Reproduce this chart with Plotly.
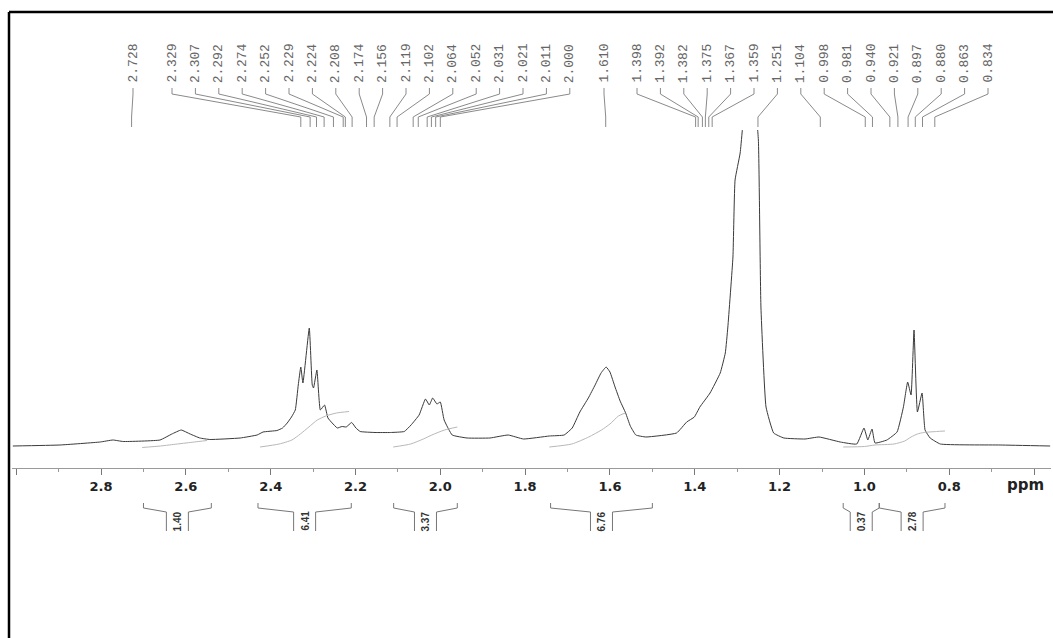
import plotly.graph_objects as go

# ---------------- data ----------------
# 1H NMR trace: chemical shift (ppm) and relative intensity (arbitrary units)
spec_ppm = [3.008, 2.897, 2.802, 2.772, 2.748, 2.661, 2.633, 2.611, 2.590, 2.567,
            2.543, 2.472, 2.432, 2.418, 2.385, 2.372, 2.361, 2.351, 2.342, 2.335, 2.329, 2.324,
            2.309, 2.302, 2.299, 2.291, 2.283, 2.273, 2.265, 2.255, 2.243, 2.232,
            2.222, 2.209, 2.199, 2.189, 2.154, 2.118, 2.085, 2.069, 2.050, 2.035,
            2.026, 2.018, 2.008, 2.000, 1.991, 1.972, 1.937, 1.883, 1.840, 1.804,
            1.743, 1.708, 1.689, 1.671, 1.651, 1.635, 1.621, 1.609, 1.600, 1.588, 1.576,
            1.563, 1.552, 1.539, 1.515,
            1.443, 1.419, 1.401, 1.388, 1.364, 1.340, 1.328, 1.322, 1.310, 1.305, 1.293, 1.281, 1.269,
            1.258, 1.250, 1.244, 1.232, 1.214, 1.190, 1.140, 1.107, 1.057, 1.018,
            1.001, 0.992, 0.982, 0.975, 0.947, 0.923, 0.908, 0.898, 0.890, 0.883,
            0.875, 0.864, 0.857, 0.845, 0.821, 0.680, 0.562]
spec_int = [0, 1, 4, 6, 4.5, 6, 12, 16, 12, 8,
            6.5, 8, 11, 14, 15.5, 18, 23, 29, 36, 61, 79, 63,
            118, 61, 58, 76, 36, 41, 28, 23, 18, 19.5,
            19, 23.5, 18, 14.5, 13.5, 13.5, 14.5, 21, 31, 47,
            41, 48, 42, 44, 26, 11, 8, 8, 11, 7,
            10, 11, 18, 34, 48, 61, 73, 79, 74, 59, 45,
            33, 20, 11, 9,
            13, 24, 29, 39, 53, 73, 93, 119, 189, 266, 293, 346, 366,
            346, 306, 139, 39, 13, 8, 7, 9, 4, 2,
            18, 6, 17, 3, 6, 14, 39, 64, 51, 116,
            34, 53, 16, 8, 2, 1, 0]

# integral curves (ppm, curve height)
int1_ppm = [2.703, 2.66, 2.62, 2.58, 2.55]
int1_val = [-1.5, 0, 2, 4, 5.5]
int2_ppm = [2.425, 2.38, 2.35, 2.33, 2.31, 2.29, 2.27, 2.245, 2.215]
int2_val = [-1, 2, 6, 12, 19, 26, 30, 33, 34.5]
int3_ppm = [2.111, 2.07, 2.04, 2.02, 1.99, 1.96]
int3_val = [-1, 2, 7, 11, 16, 19]
int4_ppm = [1.743, 1.69, 1.65, 1.62, 1.60, 1.58, 1.564]
int4_val = [-1, 2, 9, 16, 22, 30, 33]
int5_ppm = [1.05, 1.00, 0.975, 0.93, 0.905, 0.89, 0.875, 0.86, 0.83, 0.81]
int5_val = [-1, -0.5, 1, 2, 5, 9, 12, 13.5, 14.5, 15]

# integration regions and values
integral_start = [2.70, 2.43, 2.11, 1.74, 1.05, 0.965]
integral_end = [2.54, 2.21, 1.96, 1.50, 0.965, 0.81]
integral_labels = ["1.40", "6.41", "3.37", "6.76", "0.37", "2.78"]

# peak picking labels
peak_labels = ["2.728", "2.329", "2.307", "2.292", "2.274", "2.252", "2.229", "2.224",
               "2.208", "2.174", "2.156", "2.119", "2.102", "2.064", "2.052", "2.031",
               "2.021", "2.011", "2.000", "1.610", "1.398", "1.392", "1.382", "1.375",
               "1.367", "1.359", "1.251", "1.104", "0.998", "0.981", "0.940", "0.921",
               "0.897", "0.880", "0.863", "0.834"]

# axis ticks
tick_vals = [3.0, 2.8, 2.6, 2.4, 2.2, 2.0, 1.8, 1.6, 1.4, 1.2, 1.0, 0.8, 0.6]
tick_labels = ["", "2.8", "2.6", "2.4", "2.2", "2.0", "1.8", "1.6", "1.4", "1.2", "1.0", "0.8", ""]
minor_vals = [2.9, 2.7, 2.5, 2.3, 2.1, 1.9, 1.7, 1.5, 1.3, 1.1, 0.9, 0.7]

# ---------------- layout helpers ----------------
W, H = 1053, 638
ML, MR, MT, MB = 12, 2, 12, 0
X_RANGE = [3.01, 0.56]
PLOT_W = W - ML - MR
PLOT_H = H - MT - MB


def px_to_ppm(px):
    return X_RANGE[0] - (px - ML) * (X_RANGE[0] - X_RANGE[1]) / PLOT_W


def py_to_paper(py):
    return (H - MB - py) / PLOT_H


PPM_PER_PX = (X_RANGE[0] - X_RANGE[1]) / PLOT_W

fig = go.Figure()

# spectrum
fig.add_trace(go.Scatter(x=spec_ppm, y=spec_int, mode="lines",
                         line=dict(color="#3a3a3a", width=1, shape="spline", smoothing=0.35),
                         hoverinfo="skip", showlegend=False))

# integral curves
for xs, ys in [(int1_ppm, int1_val), (int2_ppm, int2_val), (int3_ppm, int3_val),
               (int4_ppm, int4_val), (int5_ppm, int5_val)]:
    fig.add_trace(go.Scatter(x=xs, y=ys, mode="lines",
                             line=dict(color="#b8b8b8", width=1, shape="spline", smoothing=0.6),
                             hoverinfo="skip", showlegend=False))

# peak label slots (evenly spread, as on the printout)
slot_px = [133] + [172 + 23.4 * k for k in range(18)] + [604] + [637 + 23.4 * k for k in range(16)]
slot_ppm = [px_to_ppm(p) for p in slot_px]
peak_ppm = [float(s) for s in peak_labels]

cx, cy = [], []
for s, p in zip(slot_ppm, peak_ppm):
    cx += [s, s, p, p, None]
    cy += [88, 94, 117, 127, None]
fig.add_trace(go.Scatter(x=cx, y=cy, yaxis="y2", mode="lines",
                         line=dict(color="#8a8a8a", width=1), hoverinfo="skip",
                         showlegend=False))

annotations = []
for s, lab in zip(slot_ppm, peak_labels):
    annotations.append(dict(x=s, xref="x", y=py_to_paper(85), yref="paper", text=lab,
                            showarrow=False, textangle=-90, xanchor="center", yanchor="bottom",
                            font=dict(family="Liberation Mono", size=13, color="#666666")))

# integration brackets
bx, by = [], []
half_box = 11 * PPM_PER_PX
for a, b, lab in zip(integral_start, integral_end, integral_labels):
    c = (a + b) / 2
    bl, br = c + half_box, c - half_box
    bx += [a, a, bl, bl, None, br, br, b, b, None]
    by += [503, 508, 512, 531, None, 531, 512, 508, 503, None]
    annotations.append(dict(x=c, xref="x", y=py_to_paper(521), yref="paper", text=lab,
                            showarrow=False, textangle=-90, xanchor="center", yanchor="middle",
                            font=dict(family="Liberation Sans", size=10, color="#333333",
                                      weight=700)))
fig.add_trace(go.Scatter(x=bx, y=by, yaxis="y3", mode="lines",
                         line=dict(color="#777777", width=1), hoverinfo="skip",
                         showlegend=False))

annotations.append(dict(x=px_to_ppm(1025), xref="x", y=py_to_paper(485), yref="paper",
                        text="ppm", showarrow=False, xanchor="center", yanchor="middle",
                        font=dict(family="DejaVu Sans", size=15, color="#222222", weight=700)))

shapes = [
    dict(type="line", xref="paper", yref="paper", x0=(9 - ML) / PLOT_W, x1=(9 - ML) / PLOT_W,
         y0=0, y1=1, line=dict(color="black", width=2.5)),
    dict(type="line", xref="paper", yref="paper", x0=(9 - ML) / PLOT_W, x1=1.01,
         y0=1, y1=1, line=dict(color="black", width=2.5)),
]

fig.update_layout(
    width=W, height=H,
    margin=dict(l=ML, r=MR, t=MT, b=MB),
    paper_bgcolor="white", plot_bgcolor="white",
    showlegend=False,
    xaxis=dict(range=X_RANGE, anchor="y", showgrid=False, zeroline=False,
               showline=True, linecolor="#9a9a9a", linewidth=1,
               tickmode="array", tickvals=tick_vals, ticktext=tick_labels,
               ticks="outside", ticklen=6, tickcolor="#777777", tickwidth=1,
               tickfont=dict(family="DejaVu Sans", size=13, color="#222222", weight=700),
               minor=dict(tickvals=minor_vals, ticks="outside", ticklen=3,
                          tickcolor="#999999", showgrid=False)),
    yaxis=dict(range=[-22, 316], domain=[py_to_paper(468), py_to_paper(130)],
               visible=False, fixedrange=True),
    yaxis2=dict(range=[128, 87], domain=[py_to_paper(128), py_to_paper(87)],
                visible=False, anchor="x"),
    yaxis3=dict(range=[536, 498], domain=[py_to_paper(536), py_to_paper(498)],
                visible=False, anchor="x"),
    annotations=annotations,
    shapes=shapes,
)

fig.write_html("out.html", config={"displayModeBar": False},
               post_script="document.body.style.margin='0';")
